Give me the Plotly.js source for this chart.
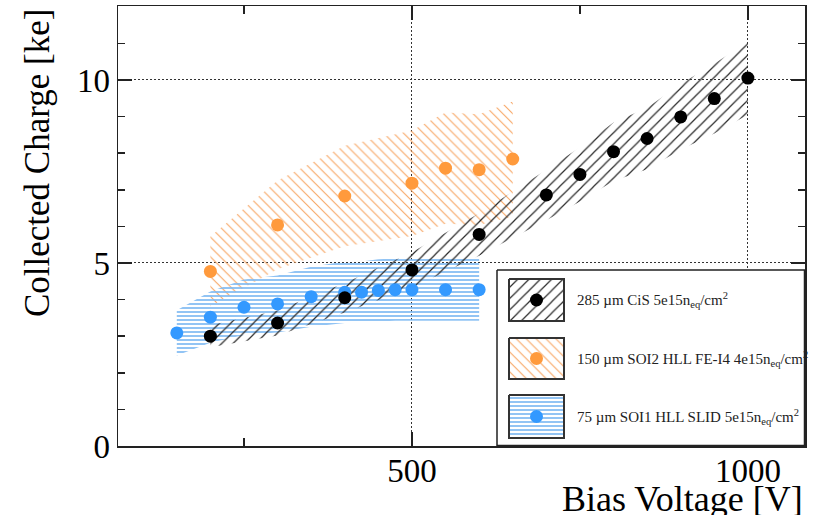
<!DOCTYPE html>
<html>
<head>
<meta charset="utf-8">
<script src="https://cdn.plot.ly/plotly-3.0.1.min.js"></script>
<style>
html,body{margin:0;padding:0;background:#fff;}
#chart{width:824px;height:515px;}
</style>
</head>
<body>
<div id="chart"></div>
<script>
// ---- data ----
var cisV   = [200, 300, 400, 500, 600, 700, 750, 800, 850, 900, 950, 1000];
var cisQ   = [3.00, 3.36, 4.05, 4.81, 5.78, 6.86, 7.42, 8.04, 8.40, 8.99, 9.49, 10.05];
var cisErr = [0.30, 0.34, 0.40, 0.48, 0.58, 0.69, 0.74, 0.80, 0.84, 0.90, 0.95, 1.00];

var soi2V   = [200, 300, 400, 500, 550, 600, 650];
var soi2Q   = [4.77, 6.04, 6.83, 7.18, 7.59, 7.55, 7.84];
var soi2Err = [0.95, 1.21, 1.37, 1.44, 1.52, 1.51, 1.57];

var soi1V   = [150, 200, 250, 300, 350, 400, 425, 450, 475, 500, 550, 600];
var soi1Q   = [3.09, 3.52, 3.79, 3.88, 4.08, 4.20, 4.20, 4.25, 4.27, 4.27, 4.27, 4.27];
var soi1Err = [0.62, 0.70, 0.76, 0.78, 0.82, 0.84, 0.84, 0.85, 0.85, 0.85, 0.85, 0.85];

var legendLabels = [
  '285 µm CiS 5e15n<sub>eq</sub>/cm<sup>2</sup>',
  '150 µm SOI2 HLL FE-I4 4e15n<sub>eq</sub>/cm<sup>2</sup>',
  '75 µm SOI1 HLL SLID 5e15n<sub>eq</sub>/cm<sup>2</sup>'
];
var xTickVals = [500, 1000];
var yTickVals = [0, 5, 10];

// ---- styles ----
var C_BLACK = '#000000', C_ORANGE = '#ff9a3c', C_BLUE = '#3399ff';
var H_BLACK = '#2a2a2a', H_ORANGE = '#f7a765', H_BLUE = '#7db9f2';
var patBlack  = {shape: '/',  fgcolor: H_BLACK,  size: 8, solidity: 0.15};
var patOrange = {shape: '\\', fgcolor: H_ORANGE, size: 7, solidity: 0.16};
var patBlue   = {shape: '-',  fgcolor: H_BLUE,   size: 4, solidity: 0.42};

function band(v, q, e, pat) {
  var xs = [], ys = [];
  for (var i = 0; i < v.length; i++) { xs.push(v[i]); ys.push(q[i] + e[i]); }
  for (var j = v.length - 1; j >= 0; j--) { xs.push(v[j]); ys.push(q[j] - e[j]); }
  return {x: xs, y: ys, type: 'scatter', mode: 'none', fill: 'toself',
          fillcolor: 'rgba(0,0,0,0)', fillpattern: pat, hoverinfo: 'skip', showlegend: false};
}
function pts(v, q, col) {
  return {x: v, y: q, type: 'scatter', mode: 'markers', showlegend: false,
          marker: {color: col, size: 13, line: {width: 0}}};
}

// plot area in pixels
var PL = 118, PR = 805, PT = 6, PB = 446;
var PW = PR - PL, PH = PB - PT;

// legend box (pixel coords of the page)
var LL = 495, LR = 805, LT = 268, LB = 446;
function boxTrace(x0, x1, y0, y1, fill, pat, lc, lw) {
  var t = {x: [x0, x1, x1, x0, x0], y: [y0, y0, y1, y1, y0], type: 'scatter', mode: 'lines',
           fill: 'toself', fillcolor: fill, line: {color: lc, width: lw},
           xaxis: 'x2', yaxis: 'y2', hoverinfo: 'skip', showlegend: false};
  if (pat) t.fillpattern = pat;
  return t;
}
var swX0 = 509, swX1 = 564;
var swY = [[279, 321], [338, 379], [395, 438]];
var swPat = [patBlack, patOrange, patBlue];
var swCol = [C_BLACK, C_ORANGE, C_BLUE];

var traces = [
  band(soi2V, soi2Q, soi2Err, patOrange),
  band(soi1V, soi1Q, soi1Err, patBlue),
  band(cisV, cisQ, cisErr, patBlack),
  pts(soi2V, soi2Q, C_ORANGE),
  pts(soi1V, soi1Q, C_BLUE),
  pts(cisV, cisQ, C_BLACK),
  boxTrace(497, 804.5, 270, 445.5, '#ffffff', null, '#222222', 1.5)
];
var annotations = [];
for (var k = 0; k < 3; k++) {
  traces.push(boxTrace(swX0, swX1, swY[k][0], swY[k][1], 'rgba(255,255,255,1)', swPat[k], '#333333', 2));
  traces.push({x: [(swX0 + swX1) / 2], y: [(swY[k][0] + swY[k][1]) / 2], type: 'scatter', mode: 'markers',
               marker: {color: swCol[k], size: 13}, xaxis: 'x2', yaxis: 'y2', hoverinfo: 'skip', showlegend: false});
  annotations.push({text: legendLabels[k], xref: 'x2', yref: 'y2', x: 575, y: (swY[k][0] + swY[k][1]) / 2,
                    xanchor: 'left', yanchor: 'middle', showarrow: false,
                    font: {family: 'Liberation Serif', size: 15, color: '#222'}});
}
annotations.push({text: 'Bias Voltage [V]', xref: 'paper', yref: 'paper', x: 1.0, y: (PB - 499) / PH,
                  xanchor: 'right', yanchor: 'middle', showarrow: false,
                  font: {family: 'Liberation Serif', size: 36, color: '#000'}});
annotations.push({text: 'Collected Charge [ke]', xref: 'paper', yref: 'paper', x: (37 - PL) / PW, y: (PB - 163) / PH,
                  xanchor: 'center', yanchor: 'middle', textangle: -90, showarrow: false,
                  font: {family: 'Liberation Serif', size: 35, color: '#000'}});

var axisCommon = {
  showline: true, linecolor: '#222', linewidth: 1.5, mirror: 'allticks',
  ticks: 'inside', tickcolor: '#222', tickwidth: 1.5, ticklen: 14,
  showgrid: true, gridcolor: '#333', gridwidth: 1, griddash: '2px,2px',
  zeroline: false, tickfont: {family: 'Liberation Serif', size: 33, color: '#000'}
};

var layout = {
  width: 824, height: 515,
  margin: {l: PL, r: 824 - PR, t: PT, b: 515 - PB, pad: 0},
  paper_bgcolor: '#fff', plot_bgcolor: '#fff',
  showlegend: false,
  xaxis: Object.assign({}, axisCommon, {
    range: [62.5, 1085], tickmode: 'array', tickvals: xTickVals, ticktext: xTickVals.map(String),
    minor: {dtick: 250, tick0: 0, ticks: 'inside', ticklen: 8, tickcolor: '#222', tickwidth: 1.5, showgrid: false},
    ticklabelstandoff: -5
  }),
  yaxis: Object.assign({}, axisCommon, {
    range: [0, 12.02], tickmode: 'array', tickvals: yTickVals, ticktext: yTickVals.map(String),
    minor: {dtick: 1, tick0: 0, ticks: 'inside', ticklen: 7, tickcolor: '#222', tickwidth: 1.5, showgrid: false},
    ticklabelstandoff: 0
  }),
  xaxis2: {domain: [(LL - PL) / PW, (LR - PL) / PW], range: [LL, LR], visible: false, anchor: 'y2', fixedrange: true},
  yaxis2: {domain: [(PB - LB) / PH, (PB - LT) / PH], range: [LB, LT], visible: false, anchor: 'x2', fixedrange: true},
  annotations: annotations
};

Plotly.newPlot('chart', traces, layout, {staticPlot: true, displayModeBar: false});
</script>
</body>
</html>
